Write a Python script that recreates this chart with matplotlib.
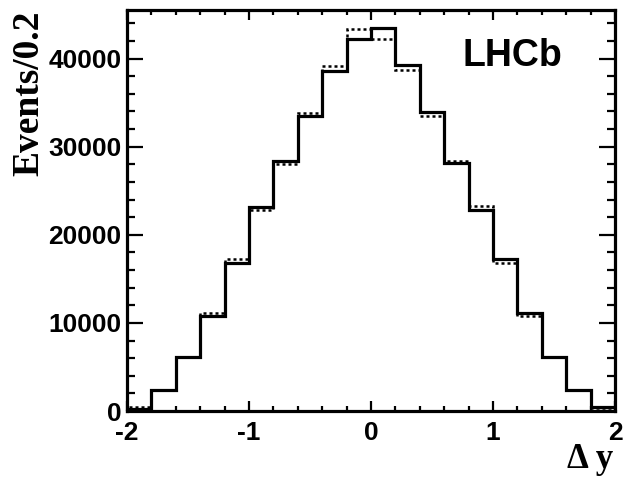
import matplotlib
matplotlib.use('Agg')
import matplotlib.pyplot as plt
from matplotlib.ticker import MultipleLocator, FuncFormatter

# bin edges and contents (Delta y, 0.2 wide bins)
edges = [-2.0, -1.8, -1.6, -1.4, -1.2, -1.0, -0.8, -0.6, -0.4, -0.2, 0.0,
         0.2, 0.4, 0.6, 0.8, 1.0, 1.2, 1.4, 1.6, 1.8, 2.0]
solid = [250, 2390, 6100, 10830, 16780, 23150, 28330, 33440, 38560, 42240,
         43490, 39320, 33900, 28150, 22840, 17240, 11170, 6100, 2390, 500]
dotted = [500, 2400, 6100, 11170, 17240, 22760, 28030, 33830, 39130, 43370,
          42160, 38670, 33440, 28370, 23220, 16780, 10800, 6100, 2390, 350]

fig = plt.figure(figsize=(6.35, 4.78), dpi=100)
ax = fig.add_axes([0.2, 0.14, 0.7685, 0.839])

ax.stairs(solid, edges, baseline=0, color='black', lw=2.3)
ax.stairs(dotted, edges, baseline=0, color='black', lw=1.8, linestyle=(0, (1.2, 1.2)))

ax.set_xlim(-2, 2)
ax.set_ylim(0, 45500)

ax.xaxis.set_major_locator(MultipleLocator(1))
ax.xaxis.set_minor_locator(MultipleLocator(0.2))
ax.yaxis.set_major_locator(MultipleLocator(10000))
ax.yaxis.set_minor_locator(MultipleLocator(2000))
ax.xaxis.set_major_formatter(FuncFormatter(lambda v, p: '%d' % round(v)))
ax.yaxis.set_major_formatter(FuncFormatter(lambda v, p: '%d' % round(v)))

ax.tick_params(axis='both', which='both', direction='in', top=True, right=True, width=1.6)
ax.tick_params(axis='x', which='major', length=7.5, pad=7)
ax.tick_params(axis='x', which='minor', length=3.6)
ax.tick_params(axis='y', which='major', length=11.5, pad=4)
ax.tick_params(axis='y', which='minor', length=6)
for lab in ax.get_xticklabels() + ax.get_yticklabels():
    lab.set_fontfamily('Liberation Sans')
    lab.set_fontweight('bold')
    lab.set_fontsize(19)

for s in ax.spines.values():
    s.set_linewidth(2.3)

fig.text(0.045, 0.979, 'Events/0.2', rotation=90, ha='center', va='top',
         fontfamily='Liberation Serif', fontweight='bold', fontsize=27)
fig.text(0.966, 0.004, '\u0394 y', ha='right', va='bottom',
         fontfamily='Liberation Serif', fontweight='bold', fontsize=25)
ax.text(0.789, 0.885, 'LHCb', transform=ax.transAxes, ha='center', va='center',
        fontfamily='Liberation Sans', fontweight='bold', fontsize=27)

fig.savefig('out.png', dpi=100)
